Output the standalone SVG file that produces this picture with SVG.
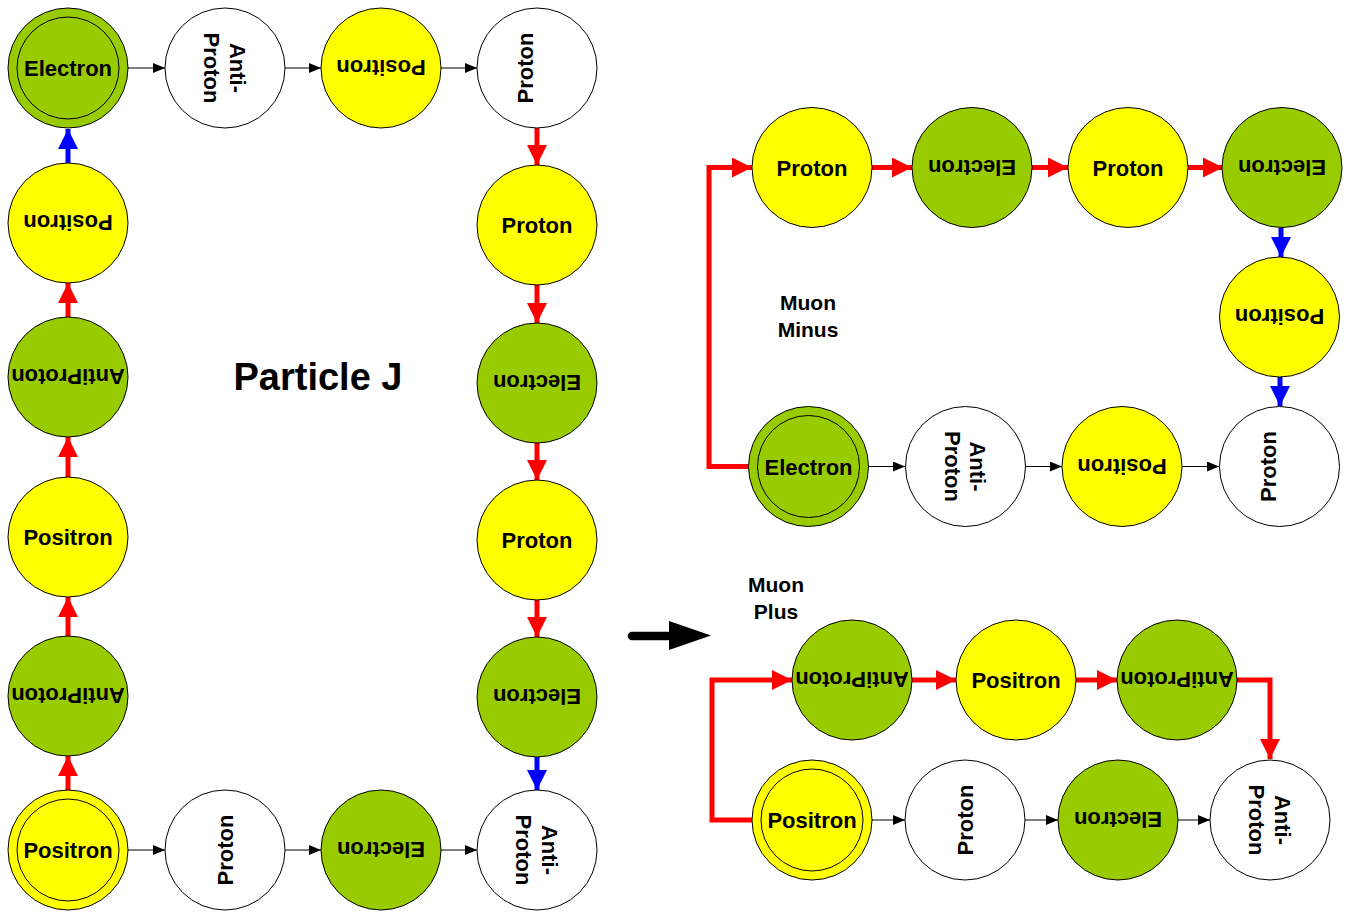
<svg xmlns="http://www.w3.org/2000/svg" width="1348" height="913" viewBox="0 0 1348 913">
<style>
.n{stroke:#000;stroke-width:1}
.g{fill:#99CC00}.y{fill:#FFFF00}.w{fill:#FFFFFF}
.in{fill:none;stroke:#000;stroke-width:1}
text{font-family:"Liberation Sans",Arial,sans-serif;font-weight:bold;font-size:22px;fill:#000;text-anchor:middle}
.title{font-size:38px}
.lbl{font-size:21px}
.red{fill:none;stroke:#FF0000;stroke-width:5}
.blue{fill:none;stroke:#0000FF;stroke-width:5}
.blk{fill:none;stroke:#000;stroke-width:1}
</style>
<defs>
<marker id="mr" markerUnits="userSpaceOnUse" markerWidth="20" markerHeight="20" refX="20" refY="10" orient="auto"><path d="M0,0 L20,10 L0,20 z" fill="#FF0000"/></marker>
<marker id="mb" markerUnits="userSpaceOnUse" markerWidth="20" markerHeight="20" refX="20" refY="10" orient="auto"><path d="M0,0 L20,10 L0,20 z" fill="#0000FF"/></marker>
<marker id="mk" markerUnits="userSpaceOnUse" markerWidth="12" markerHeight="10" refX="12" refY="5" orient="auto"><path d="M0,0 L12,5 L0,10 z" fill="#000"/></marker>
</defs>

<g id="connectors">
<!-- Particle J top row -->
<line class="blk" x1="128" y1="68" x2="165" y2="68" marker-end="url(#mk)"/>
<line class="blk" x1="285" y1="68" x2="321" y2="68" marker-end="url(#mk)"/>
<line class="blk" x1="441" y1="68" x2="477" y2="68" marker-end="url(#mk)"/>
<!-- left column (upward) -->
<line class="blue" x1="68" y1="163" x2="68" y2="129" marker-end="url(#mb)"/>
<line class="red" x1="68" y1="317" x2="68" y2="283" marker-end="url(#mr)"/>
<line class="red" x1="68" y1="477" x2="68" y2="437" marker-end="url(#mr)"/>
<line class="red" x1="68" y1="636" x2="68" y2="597" marker-end="url(#mr)"/>
<line class="red" x1="68" y1="790" x2="68" y2="756" marker-end="url(#mr)"/>
<!-- right column (downward) -->
<line class="red" x1="537" y1="128" x2="537" y2="165" marker-end="url(#mr)"/>
<line class="red" x1="537" y1="285" x2="537" y2="323" marker-end="url(#mr)"/>
<line class="red" x1="537" y1="443" x2="537" y2="480" marker-end="url(#mr)"/>
<line class="red" x1="537" y1="600" x2="537" y2="637" marker-end="url(#mr)"/>
<line class="blue" x1="537" y1="757" x2="537" y2="790" marker-end="url(#mb)"/>
<!-- bottom row -->
<line class="blk" x1="128" y1="850" x2="165" y2="850" marker-end="url(#mk)"/>
<line class="blk" x1="285" y1="850" x2="321" y2="850" marker-end="url(#mk)"/>
<line class="blk" x1="441" y1="850" x2="477" y2="850" marker-end="url(#mk)"/>
<!-- Muon Minus -->
<path class="red" d="M749,466.5 H709 V167.5 H752" marker-end="url(#mr)"/>
<line class="red" x1="872" y1="167.5" x2="912" y2="167.5" marker-end="url(#mr)"/>
<line class="red" x1="1032" y1="167.5" x2="1068" y2="167.5" marker-end="url(#mr)"/>
<line class="red" x1="1188" y1="167.5" x2="1223" y2="167.5" marker-end="url(#mr)"/>
<line class="blue" x1="1281" y1="228" x2="1281" y2="257" marker-end="url(#mb)"/>
<line class="blue" x1="1280" y1="377" x2="1280" y2="406" marker-end="url(#mb)"/>
<line class="blk" x1="868" y1="466.5" x2="905" y2="466.5" marker-end="url(#mk)"/>
<line class="blk" x1="1025" y1="466.5" x2="1062" y2="466.5" marker-end="url(#mk)"/>
<line class="blk" x1="1182" y1="466.5" x2="1219" y2="466.5" marker-end="url(#mk)"/>
<!-- Muon Plus -->
<path class="red" d="M752,820 H712 V680 H792" marker-end="url(#mr)"/>
<line class="red" x1="912" y1="680" x2="956" y2="680" marker-end="url(#mr)"/>
<line class="red" x1="1076" y1="680" x2="1117" y2="680" marker-end="url(#mr)"/>
<path class="red" d="M1237,680 H1270 V759" marker-end="url(#mr)"/>
<line class="blk" x1="872" y1="820" x2="905" y2="820" marker-end="url(#mk)"/>
<line class="blk" x1="1025" y1="820" x2="1058" y2="820" marker-end="url(#mk)"/>
<line class="blk" x1="1178" y1="820" x2="1210" y2="820" marker-end="url(#mk)"/>
</g>

<g id="big-arrow">
<line x1="632" y1="636" x2="670" y2="636" stroke="#000" stroke-width="8.5" stroke-linecap="round"/>
<polygon points="669,621 711,635.5 669,650" fill="#000"/>
</g>

<!-- Particle J nodes -->
<g id="pj-electron-start"><circle class="n g" cx="68" cy="68" r="60"/><circle class="in" cx="68" cy="68" r="51"/><text x="68" y="76">Electron</text></g>
<g id="pj-antiproton-top"><circle class="n w" cx="225" cy="68" r="60"/><g transform="rotate(90 225 68)"><text x="225" y="63.5">Anti-</text><text x="225" y="89">Proton</text></g></g>
<g id="pj-positron-top"><circle class="n y" cx="381" cy="68" r="60"/><text x="381" y="76" transform="rotate(180 381 68)">Positron</text></g>
<g id="pj-proton-top"><circle class="n w" cx="537" cy="68" r="60"/><text x="537" y="64" transform="rotate(-90 537 68)">Proton</text></g>

<g id="pj-positron-l1"><circle class="n y" cx="68" cy="223" r="60"/><text x="68" y="231" transform="rotate(180 68 223)">Positron</text></g>
<g id="pj-antiproton-l2"><circle class="n g" cx="68" cy="377" r="60"/><text x="68" y="385" transform="rotate(180 68 377)">AntiProton</text></g>
<g id="pj-positron-l3"><circle class="n y" cx="68" cy="537" r="60"/><text x="68" y="545">Positron</text></g>
<g id="pj-antiproton-l4"><circle class="n g" cx="68" cy="696" r="60"/><text x="68" y="704" transform="rotate(180 68 696)">AntiProton</text></g>
<g id="pj-positron-start"><circle class="n y" cx="68" cy="850" r="60"/><circle class="in" cx="68" cy="850" r="51"/><text x="68" y="858">Positron</text></g>

<g id="pj-proton-bottom"><circle class="n w" cx="225" cy="850" r="60"/><text x="225" y="858" transform="rotate(-90 225 850)">Proton</text></g>
<g id="pj-electron-bottom"><circle class="n g" cx="381" cy="850" r="60"/><text x="381" y="858" transform="rotate(180 381 850)">Electron</text></g>
<g id="pj-antiproton-bottom"><circle class="n w" cx="537" cy="850" r="60"/><g transform="rotate(90 537 850)"><text x="537" y="845.5">Anti-</text><text x="537" y="871">Proton</text></g></g>

<g id="pj-proton-r1"><circle class="n y" cx="537" cy="225" r="60"/><text x="537" y="233">Proton</text></g>
<g id="pj-electron-r2"><circle class="n g" cx="537" cy="383" r="60"/><text x="537" y="391" transform="rotate(180 537 383)">Electron</text></g>
<g id="pj-proton-r3"><circle class="n y" cx="537" cy="540" r="60"/><text x="537" y="548">Proton</text></g>
<g id="pj-electron-r4"><circle class="n g" cx="537" cy="697" r="60"/><text x="537" y="705" transform="rotate(180 537 697)">Electron</text></g>

<g id="title"><text class="title" x="318" y="390">Particle J</text></g>

<!-- Muon Minus -->
<g id="mm-label"><text class="lbl" x="808" y="310">Muon</text><text class="lbl" x="808" y="337">Minus</text></g>
<g id="mm-proton-1"><circle class="n y" cx="812" cy="167.5" r="60"/><text x="812" y="175.5">Proton</text></g>
<g id="mm-electron-1"><circle class="n g" cx="972" cy="167.5" r="60"/><text x="972" y="175.5" transform="rotate(180 972 167.5)">Electron</text></g>
<g id="mm-proton-2"><circle class="n y" cx="1128" cy="167.5" r="60"/><text x="1128" y="175.5">Proton</text></g>
<g id="mm-electron-2"><circle class="n g" cx="1282" cy="167.5" r="60"/><text x="1282" y="175.5" transform="rotate(180 1282 167.5)">Electron</text></g>
<g id="mm-positron-3"><circle class="n y" cx="1279.5" cy="317" r="60"/><text x="1279.5" y="325" transform="rotate(180 1279.5 317)">Positron</text></g>
<g id="mm-electron-start"><circle class="n g" cx="808.5" cy="466.5" r="60"/><circle class="in" cx="808.5" cy="466.5" r="51"/><text x="808.5" y="474.5">Electron</text></g>
<g id="mm-antiproton"><circle class="n w" cx="965.5" cy="466.5" r="60"/><g transform="rotate(90 965.5 466.5)"><text x="965.5" y="462">Anti-</text><text x="965.5" y="487.5">Proton</text></g></g>
<g id="mm-positron"><circle class="n y" cx="1122" cy="466.5" r="60"/><text x="1122" y="474.5" transform="rotate(180 1122 466.5)">Positron</text></g>
<g id="mm-proton-end"><circle class="n w" cx="1279.5" cy="466.5" r="60"/><text x="1279.5" y="462.5" transform="rotate(-90 1279.5 466.5)">Proton</text></g>

<!-- Muon Plus -->
<g id="mp-label"><text class="lbl" x="776" y="592">Muon</text><text class="lbl" x="776" y="619">Plus</text></g>
<g id="mp-antiproton-1"><circle class="n g" cx="852" cy="680" r="60"/><text x="852" y="688" transform="rotate(180 852 680)">AntiProton</text></g>
<g id="mp-positron-1"><circle class="n y" cx="1016" cy="680" r="60"/><text x="1016" y="688">Positron</text></g>
<g id="mp-antiproton-2"><circle class="n g" cx="1177" cy="680" r="60"/><text x="1177" y="688" transform="rotate(180 1177 680)">AntiProton</text></g>
<g id="mp-positron-start"><circle class="n y" cx="812" cy="820" r="60"/><circle class="in" cx="812" cy="820" r="51"/><text x="812" y="828">Positron</text></g>
<g id="mp-proton"><circle class="n w" cx="965" cy="820" r="60"/><text x="965" y="828" transform="rotate(-90 965 820)">Proton</text></g>
<g id="mp-electron"><circle class="n g" cx="1118" cy="820" r="60"/><text x="1118" y="828" transform="rotate(180 1118 820)">Electron</text></g>
<g id="mp-antiproton-end"><circle class="n w" cx="1270" cy="820" r="60"/><g transform="rotate(90 1270 820)"><text x="1270" y="815.5">Anti-</text><text x="1270" y="841">Proton</text></g></g>
</svg>
